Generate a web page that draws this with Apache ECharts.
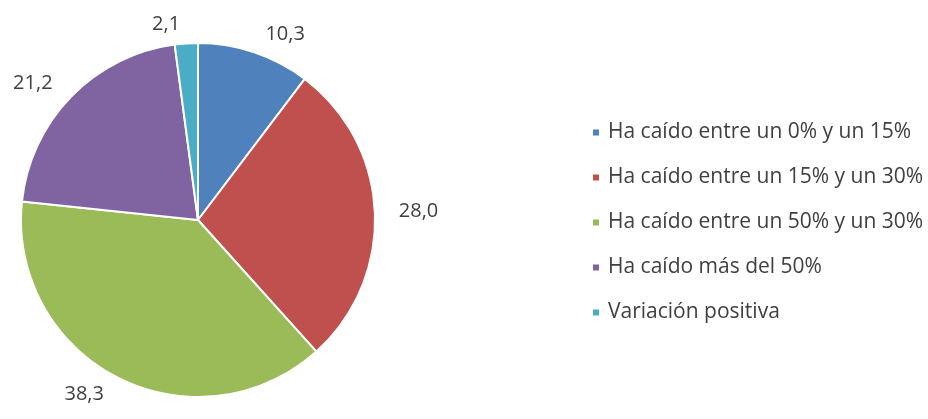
<!DOCTYPE html>
<html><head><meta charset="utf-8">
<script src="https://cdn.jsdelivr.net/npm/echarts@6/dist/echarts.min.js"></script>
<style>html,body{margin:0;padding:0;background:#fff}#c{width:928px;height:419px}</style>
</head><body><div id="c"></div>
<script>
const categories = ["Ha caído entre un 0% y un 15%","Ha caído entre un 15% y un 30%","Ha caído entre un 50% y un 30%","Ha caído más del 50%","Variación positiva"];
const values = [10.3, 28.0, 38.3, 21.2, 2.1];
const colors = ["#4F81BD","#C0504D","#9BBB59","#8064A2","#4BACC6"];
const FONT = "'Open Sans', sans-serif";
const chart = echarts.init(document.getElementById('c'), null, {renderer:'canvas'});
chart.setOption({
  animation:false,
  color: colors,
  legend:{
    orient:'vertical', left:586, top:117,
    itemWidth:8, itemHeight:8, itemGap:24, icon:'rect',
    textStyle:{fontFamily:FONT, fontSize:21, color:'#404040', lineHeight:19, padding:[0,0,0,3]},
    data: categories
  },
  series:[{
    type:'pie', center:[198,220], radius:177, startAngle:90, clockwise:true,
    avoidLabelOverlap:false,
    itemStyle:{borderColor:'#fff', borderWidth:2},
    label:{show:true, position:'outside', fontFamily:FONT, fontSize:20, color:'#404040',
      formatter: p => p.value.toFixed(1).replace('.', ',')},
    labelLine:{show:false, length:19, length2:0},
    emphasis:{disabled:true},
    data: categories.map((n,i)=>({name:n, value:values[i]}))
  }]
});
</script></body></html>
